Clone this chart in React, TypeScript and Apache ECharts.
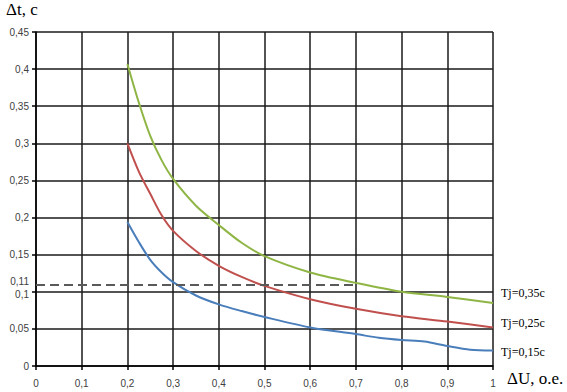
import React, { useEffect, useRef } from "react";
import * as echarts from "echarts";

const xTicks = [0, 0.1, 0.2, 0.3, 0.4, 0.5, 0.6, 0.7, 0.8, 0.9, 1];
const greenX = [0.2, 0.225, 0.25, 0.275, 0.3, 0.35, 0.4, 0.45, 0.5, 0.6, 0.7, 0.8, 0.9, 1.0];
const greenY = [0.407, 0.355, 0.31, 0.277, 0.252, 0.216, 0.19, 0.166, 0.148, 0.126, 0.112, 0.1, 0.093, 0.085];
const redX = [0.2, 0.225, 0.25, 0.275, 0.3, 0.35, 0.4, 0.45, 0.5, 0.6, 0.7, 0.8, 0.9, 1.0];
const redY = [0.3, 0.262, 0.232, 0.203, 0.182, 0.155, 0.135, 0.12, 0.108, 0.09, 0.077, 0.067, 0.06, 0.052];
const blueX = [0.2, 0.225, 0.25, 0.275, 0.3, 0.35, 0.4, 0.45, 0.5, 0.6, 0.7, 0.75, 0.8, 0.85, 0.9, 0.95, 1.0];
const blueY = [0.194, 0.167, 0.143, 0.126, 0.113, 0.095, 0.083, 0.074, 0.066, 0.052, 0.043, 0.038, 0.035, 0.033, 0.027, 0.022, 0.021];
const seriesNames = ["Tj=0,35c", "Tj=0,25c", "Tj=0,15c"];
const xTitle = "ΔU, o.e.";
const yTitle = "Δt, c";
const refLevel = 0.11;
const refLabel = "0,11";
const refEndX = 0.7;

const zip = (xs: number[], ys: number[]) => xs.map((x, i) => [x, ys[i]]);
const fmt = (v: number) => String(Math.round(v * 100) / 100).replace(".", ",");
const SERIF = "Liberation Serif";
const SANS = "Liberation Sans";

export default function App() {
  const ref = useRef<HTMLDivElement>(null);
  useEffect(() => {
    const chart = echarts.init(ref.current!, null, { renderer: "svg" });
    const gridLine = { show: true, lineStyle: { color: "#1a1a1a", width: 1.5 } };
    const tickLabel = { color: "#404040", fontFamily: SANS, fontSize: 10 };
    const serifText = { fontFamily: SERIF, fontSize: 12, color: "#000" };
    const endLabel = (dy: number) => ({
      show: true,
      formatter: "{s|{a}}",
      ...serifText,
      rich: { s: serifText },
      distance: 8,
      offset: [0, dy],
    });
    const mk = (name: string, data: number[][], color: string, dy: number, extra: any = {}) => ({
      name,
      type: "line",
      data,
      smooth: 0.3,
      showSymbol: false,
      symbol: "none",
      lineStyle: { color, width: 2 },
      itemStyle: { color },
      endLabel: endLabel(dy),
      z: 3,
      ...extra,
    });
    chart.setOption({
      animation: false,
      backgroundColor: "#fff",
      grid: { left: 36, right: 74, top: 32, bottom: 26 },
      graphic: [
        {
          type: "text",
          left: 6,
          top: 1,
          style: { text: yTitle, font: `17px '${SERIF}', serif`, fill: "#000" },
        },
        {
          type: "text",
          left: 507,
          top: 370,
          style: { text: xTitle, font: `17px '${SERIF}', serif`, fill: "#000" },
        },
      ],
      xAxis: {
        type: "value",
        min: 0,
        max: 1,
        interval: 0.1,
        axisLine: { lineStyle: { color: "#000", width: 1.5 } },
        axisTick: { show: true, length: 4, lineStyle: { color: "#000", width: 1.5 } },
        axisLabel: { ...tickLabel, margin: 12, formatter: (v: number) => fmt(v) },
        splitLine: gridLine,
      },
      yAxis: {
        type: "value",
        min: 0,
        max: 0.45,
        interval: 0.05,
        axisLine: { show: true, lineStyle: { color: "#000", width: 1.5 } },
        axisTick: { show: true, length: 4, lineStyle: { color: "#000", width: 1.5 } },
        axisLabel: {
          ...tickLabel,
          margin: 7,
          formatter: (v: number) => (Math.abs(v - 0.1) < 1e-9 ? `{low|${fmt(v)}}` : fmt(v)),
          rich: { low: { ...tickLabel, padding: [5, 0, 0, 0] } },
        },
        splitLine: gridLine,
      },
      series: [
        mk(seriesNames[0], zip(greenX, greenY), "#8fb545", -10, {
          markLine: {
            silent: true,
            symbol: ["none", "none"],
            lineStyle: { color: "#5a5a5a", type: [9, 5], width: 2 },
            label: {
              show: true,
              position: "start",
              distance: 7,
              formatter: refLabel,
              color: "#404040",
              fontFamily: SANS,
              fontSize: 10,
              offset: [0, -3],
            },
            data: [[{ coord: [0, refLevel] }, { coord: [refEndX, refLevel] }]],
          },
        }),
        mk(seriesNames[1], zip(redX, redY), "#c0504d", -4),
        mk(seriesNames[2], zip(blueX, blueY), "#4a7ebb", 2),
      ],
    });
    return () => chart.dispose();
  }, []);
  return (
    <div
      ref={ref}
      style={{ position: "absolute", left: 0, top: 0, width: 567, height: 392, background: "#fff" }}
    />
  );
}
